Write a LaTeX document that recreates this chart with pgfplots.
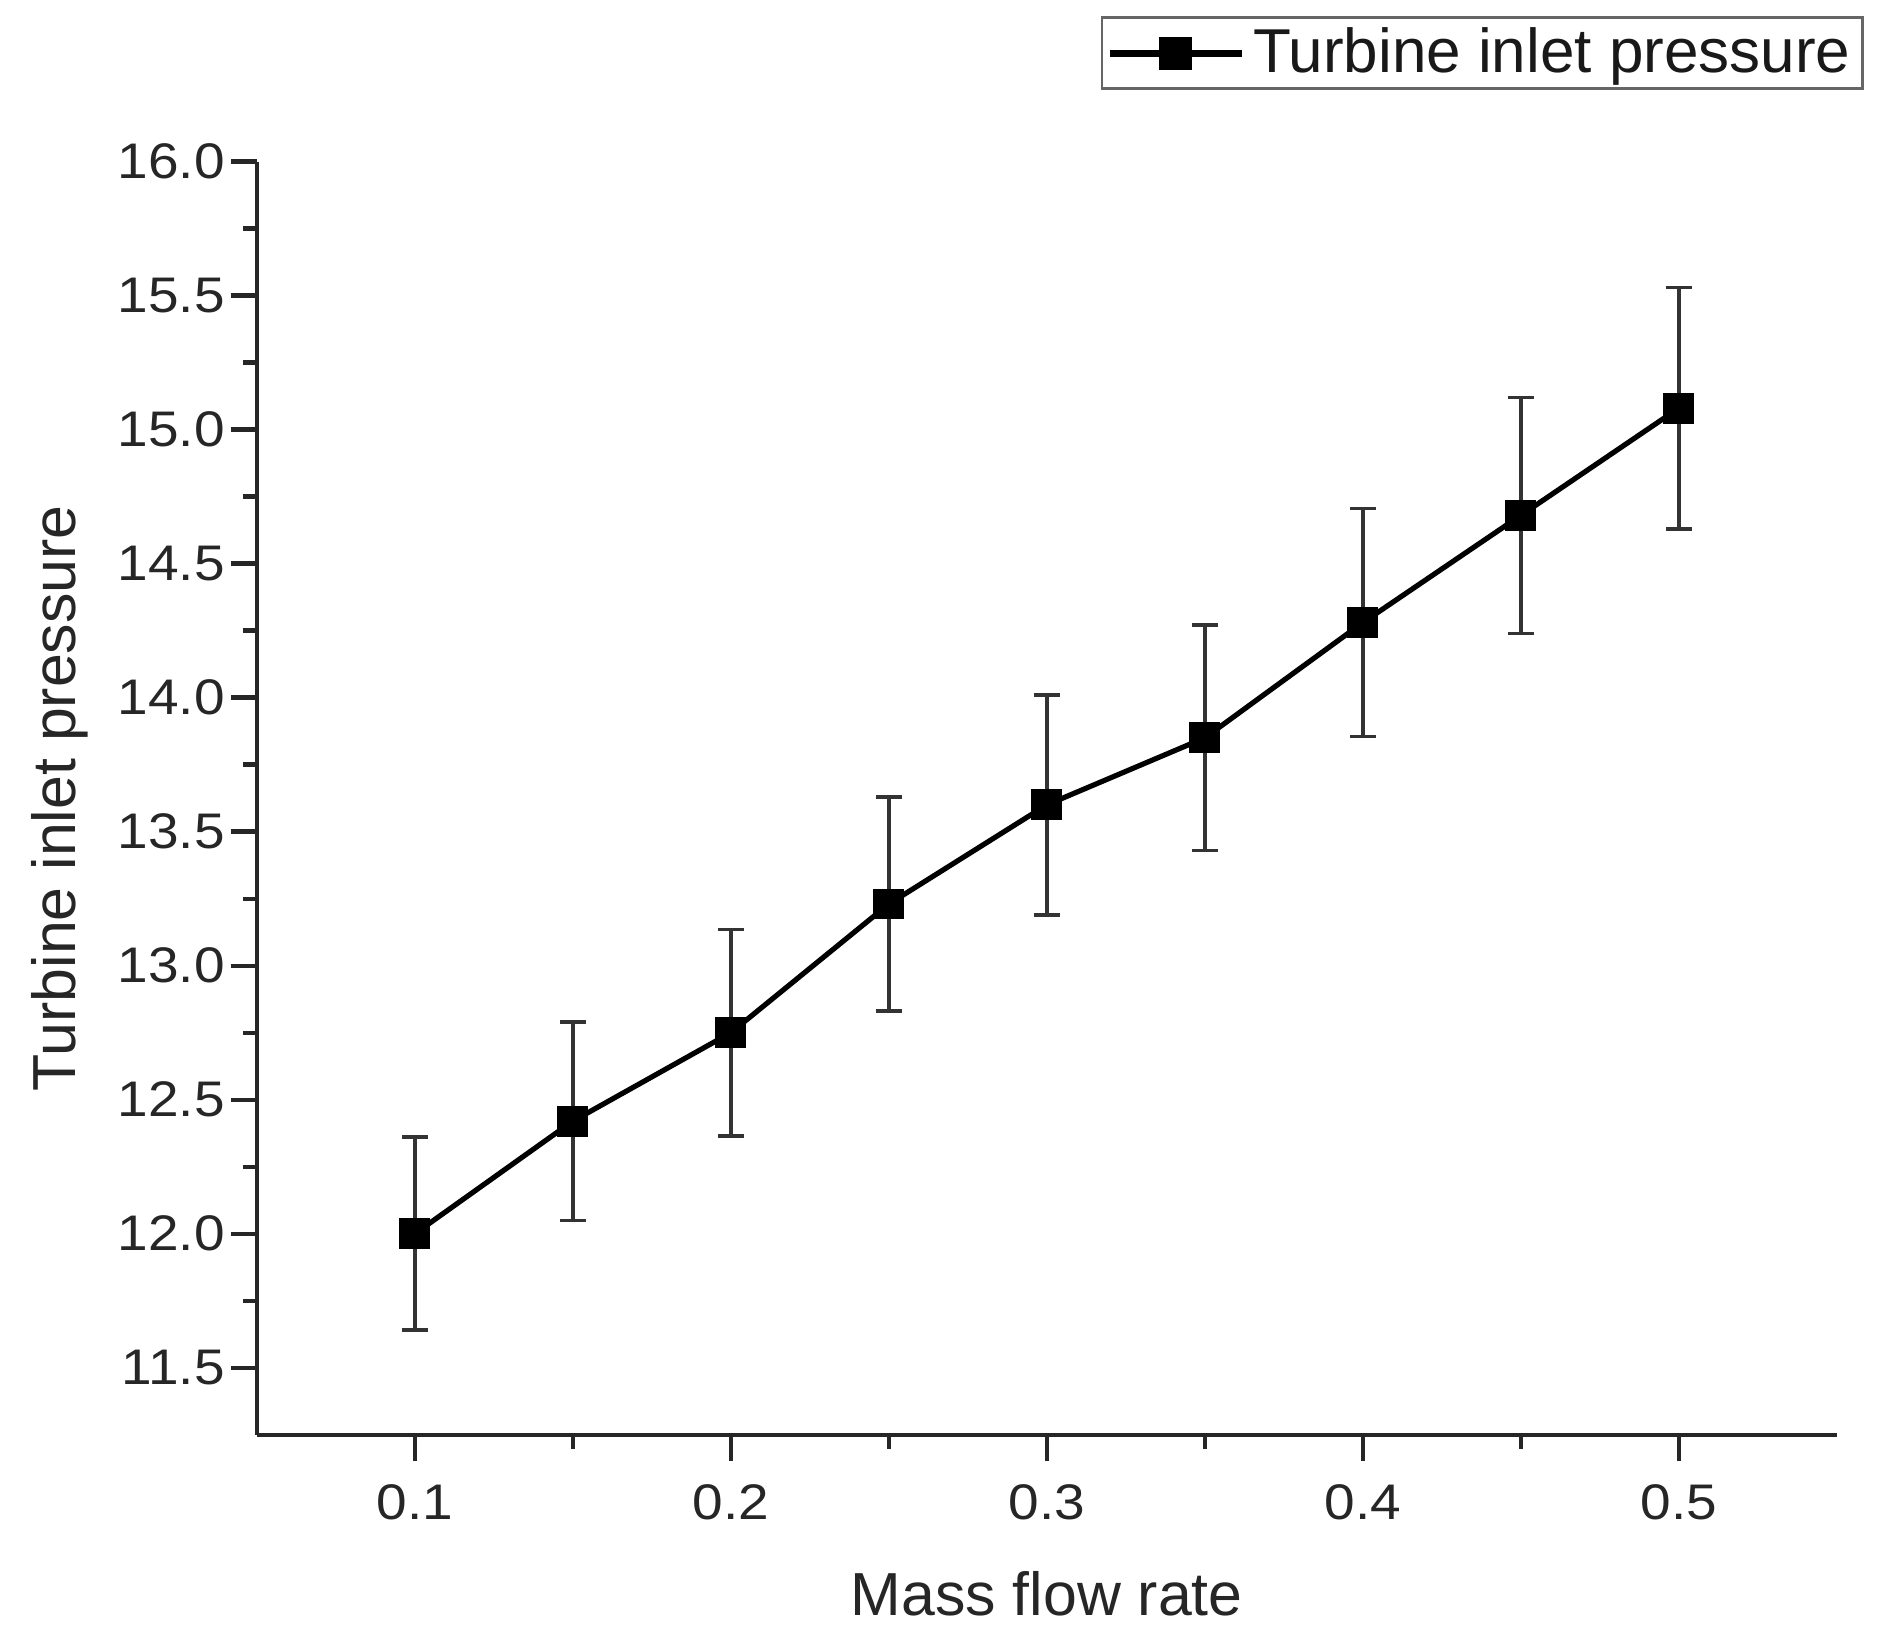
\documentclass[border=0pt]{standalone}
\usepackage{pgfplots}
\pgfplotsset{compat=1.18}
\usepackage{fontspec}
\setmainfont{Liberation Sans}
\newfontfamily\tickfont[FakeStretch=1.1]{Liberation Sans}
\begin{document}
\begin{tikzpicture}
\begin{axis}[
  at={(0,0)}, anchor=south west,
  scale only axis,
  width=395pt, height=318.3pt,
  xmin=0.05, xmax=0.55,
  ymin=11.25, ymax=16.0,
  axis x line=bottom, axis y line=left,
  axis line style={-, line width=1.1pt, color=black!85},
  xtick={0.1,0.2,0.3,0.4,0.5},
  ytick={11.5,12,12.5,13,13.5,14,14.5,15,15.5,16},
  minor x tick num=1, minor y tick num=1,
  tick align=outside,
  major tick length=6.5pt, minor tick length=3.5pt,
  every tick/.style={line width=1.1pt, color=black!85},
  xticklabel style={/pgf/number format/fixed, /pgf/number format/precision=1, font=\tickfont\fontsize{12.5}{14}\selectfont, color=black!85},
  yticklabel style={/pgf/number format/fixed, /pgf/number format/fixed zerofill, /pgf/number format/precision=1, font=\tickfont\fontsize{12.5}{14}\selectfont, color=black!85},
  /pgf/number format/assume math mode=true,
  xticklabel shift=2.5pt, yticklabel shift=-2pt,
  xlabel={Mass flow rate}, ylabel={Turbine inlet pressure},
  label style={font=\fontsize{15.2}{18}\selectfont, color=black!85},
  xlabel style={at={(axis description cs:0.5,-0.1245)}, anchor=center},
  ylabel style={at={(axis description cs:-0.1245,0.5)}, anchor=center, rotate=0},
  legend style={at={(1.017,1.114)}, anchor=north east, draw=black!60, line width=0.6pt,
    font=\fontsize{15.5}{18}\selectfont, inner xsep=1pt, inner ysep=0.5pt, text=black!90},
  legend cell align=left,
  legend image code/.code={
    \draw[mark repeat=2, mark phase=2, #1, line width=1.8pt] plot coordinates {(0pt,0pt) (16.5pt,0pt) (33pt,0pt)};
  },
  clip=false,
]
\addplot[black, line width=1.3pt, mark=square*, mark size=3.2pt,
  error bars/.cd, y dir=both, y explicit,
  error bar style={line width=0.9pt, color=black!80},
  error mark options={rotate=90, mark size=3.2pt, line width=0.9pt, color=black!80}]
  coordinates {
  (0.10,12.00) +- (0,0.36)
  (0.15,12.42) +- (0,0.37)
  (0.20,12.75) +- (0,0.385)
  (0.25,13.23) +- (0,0.40)
  (0.30,13.60) +- (0,0.41)
  (0.35,13.85) +- (0,0.42)
  (0.40,14.28) +- (0,0.425)
  (0.45,14.68) +- (0,0.44)
  (0.50,15.08) +- (0,0.45)
  };
\addlegendentry{Turbine inlet pressure}
\end{axis}
\pgfresetboundingbox
\path[use as bounding box] (-64.2pt,-50.55pt) rectangle (408.05pt,358.7pt);
\end{tikzpicture}
\end{document}
